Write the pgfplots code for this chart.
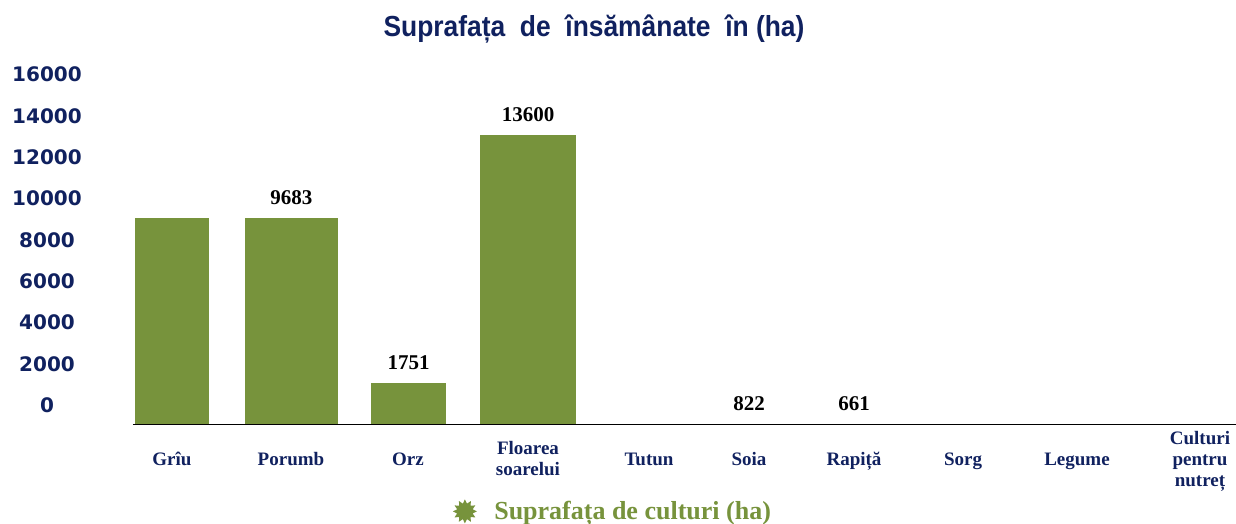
\documentclass[border=0pt]{standalone}
\usepackage{fontspec}
\setmainfont{Liberation Serif}
\newfontfamily\tickfont{DejaVu Sans}
\newfontfamily\titlefont[FakeStretch=0.91]{Liberation Sans}
\usepackage{pgfplots}
\pgfplotsset{compat=1.18}
\usetikzlibrary{shapes.geometric}
\definecolor{barcol}{HTML}{77933C}
\definecolor{navy}{HTML}{10215F}
\begin{document}
\begin{tikzpicture}
\useasboundingbox (-66.5pt,-49.75pt) rectangle (551.5pt,212.25pt);
\begin{axis}[
  at={(0,0)}, anchor=south west,
  scale only axis, width=551.5pt, height=165.2pt,
  xmin=133, xmax=1236, ymin=0, ymax=16000,
  enlargelimits=false, clip=false,
  axis x line*=bottom, axis y line*=left,
  x axis line style={-, black, line width=0.75pt},
  y axis line style={draw=none},
  xtick={172,291,408,528,649,749,854,963,1077,1200},
  xticklabels={\strut Grîu,\strut Porumb,\strut Orz,{\strut Floarea\\\strut soarelui},\strut Tutun,\strut Soia,\strut Rapiță,\strut Sorg,\strut Legume,{\strut Culturi\\\strut pentru\\\strut nutreț}},
  xticklabel style={anchor=center, yshift=-18.3pt, align=center, text=navy,
    font=\bfseries\fontsize{9.5}{10.5}\selectfont},
  ytick={0,2000,...,16000},
  scaled y ticks=false,
  yticklabel style={anchor=center, xshift=-43pt, yshift=9.7pt, text=navy,
    font=\tickfont\bfseries\fontsize{10}{12}\selectfont},
  /pgf/number format/assume math mode=true,
  /pgf/number format/1000 sep={},
  major tick length=0pt,
  title={Suprafața\ \ de\ \ însămânate\ \ în (ha)},
  title style={at={(0.418,1.2016)}, anchor=center, yshift=-7pt, text=navy,
    font=\titlefont\bfseries\fontsize{14.5}{16}\selectfont},
  legend style={draw=none, at={(0.436,-0.263)}, anchor=center,
    font=\bfseries\fontsize{13}{15}\selectfont, text=barcol},
]
\addplot[ybar, bar width=74, bar shift=0pt, fill=barcol, draw=none, forget plot] coordinates {(172,10000)};
\addplot[ybar, bar width=93, bar shift=0pt, fill=barcol, draw=none, forget plot] coordinates {(291.5,10000)};
\addplot[ybar, bar width=75, bar shift=0pt, fill=barcol, draw=none, forget plot] coordinates {(408.5,2000)};
\addplot[ybar, bar width=96, bar shift=0pt, fill=barcol, draw=none, forget plot] coordinates {(528,14000)};
\addplot[draw=none, mark=none, forget plot, nodes near coords, point meta=explicit symbolic,
  nodes near coords style={anchor=center, yshift=10.3pt, text=black,
    font=\bfseries\fontsize{10.5}{12}\selectfont}]
  table[meta=lab, row sep=\\] {
  x y lab\\
  291.5 10000 9683\\
  408.5 2000 1751\\
  528 14000 13600\\
  749 0 822\\
  854 0 661\\
};
\addlegendimage{legend image code/.code={
  \node[star, star points=12, star point ratio=1.5, fill=barcol, draw=none, inner sep=0pt, minimum size=12pt] at (5.5pt,0) {};
  \path (0,0) (18pt,0);}}
\addlegendentry{Suprafața de culturi (ha)}
\end{axis}
\end{tikzpicture}
\end{document}
